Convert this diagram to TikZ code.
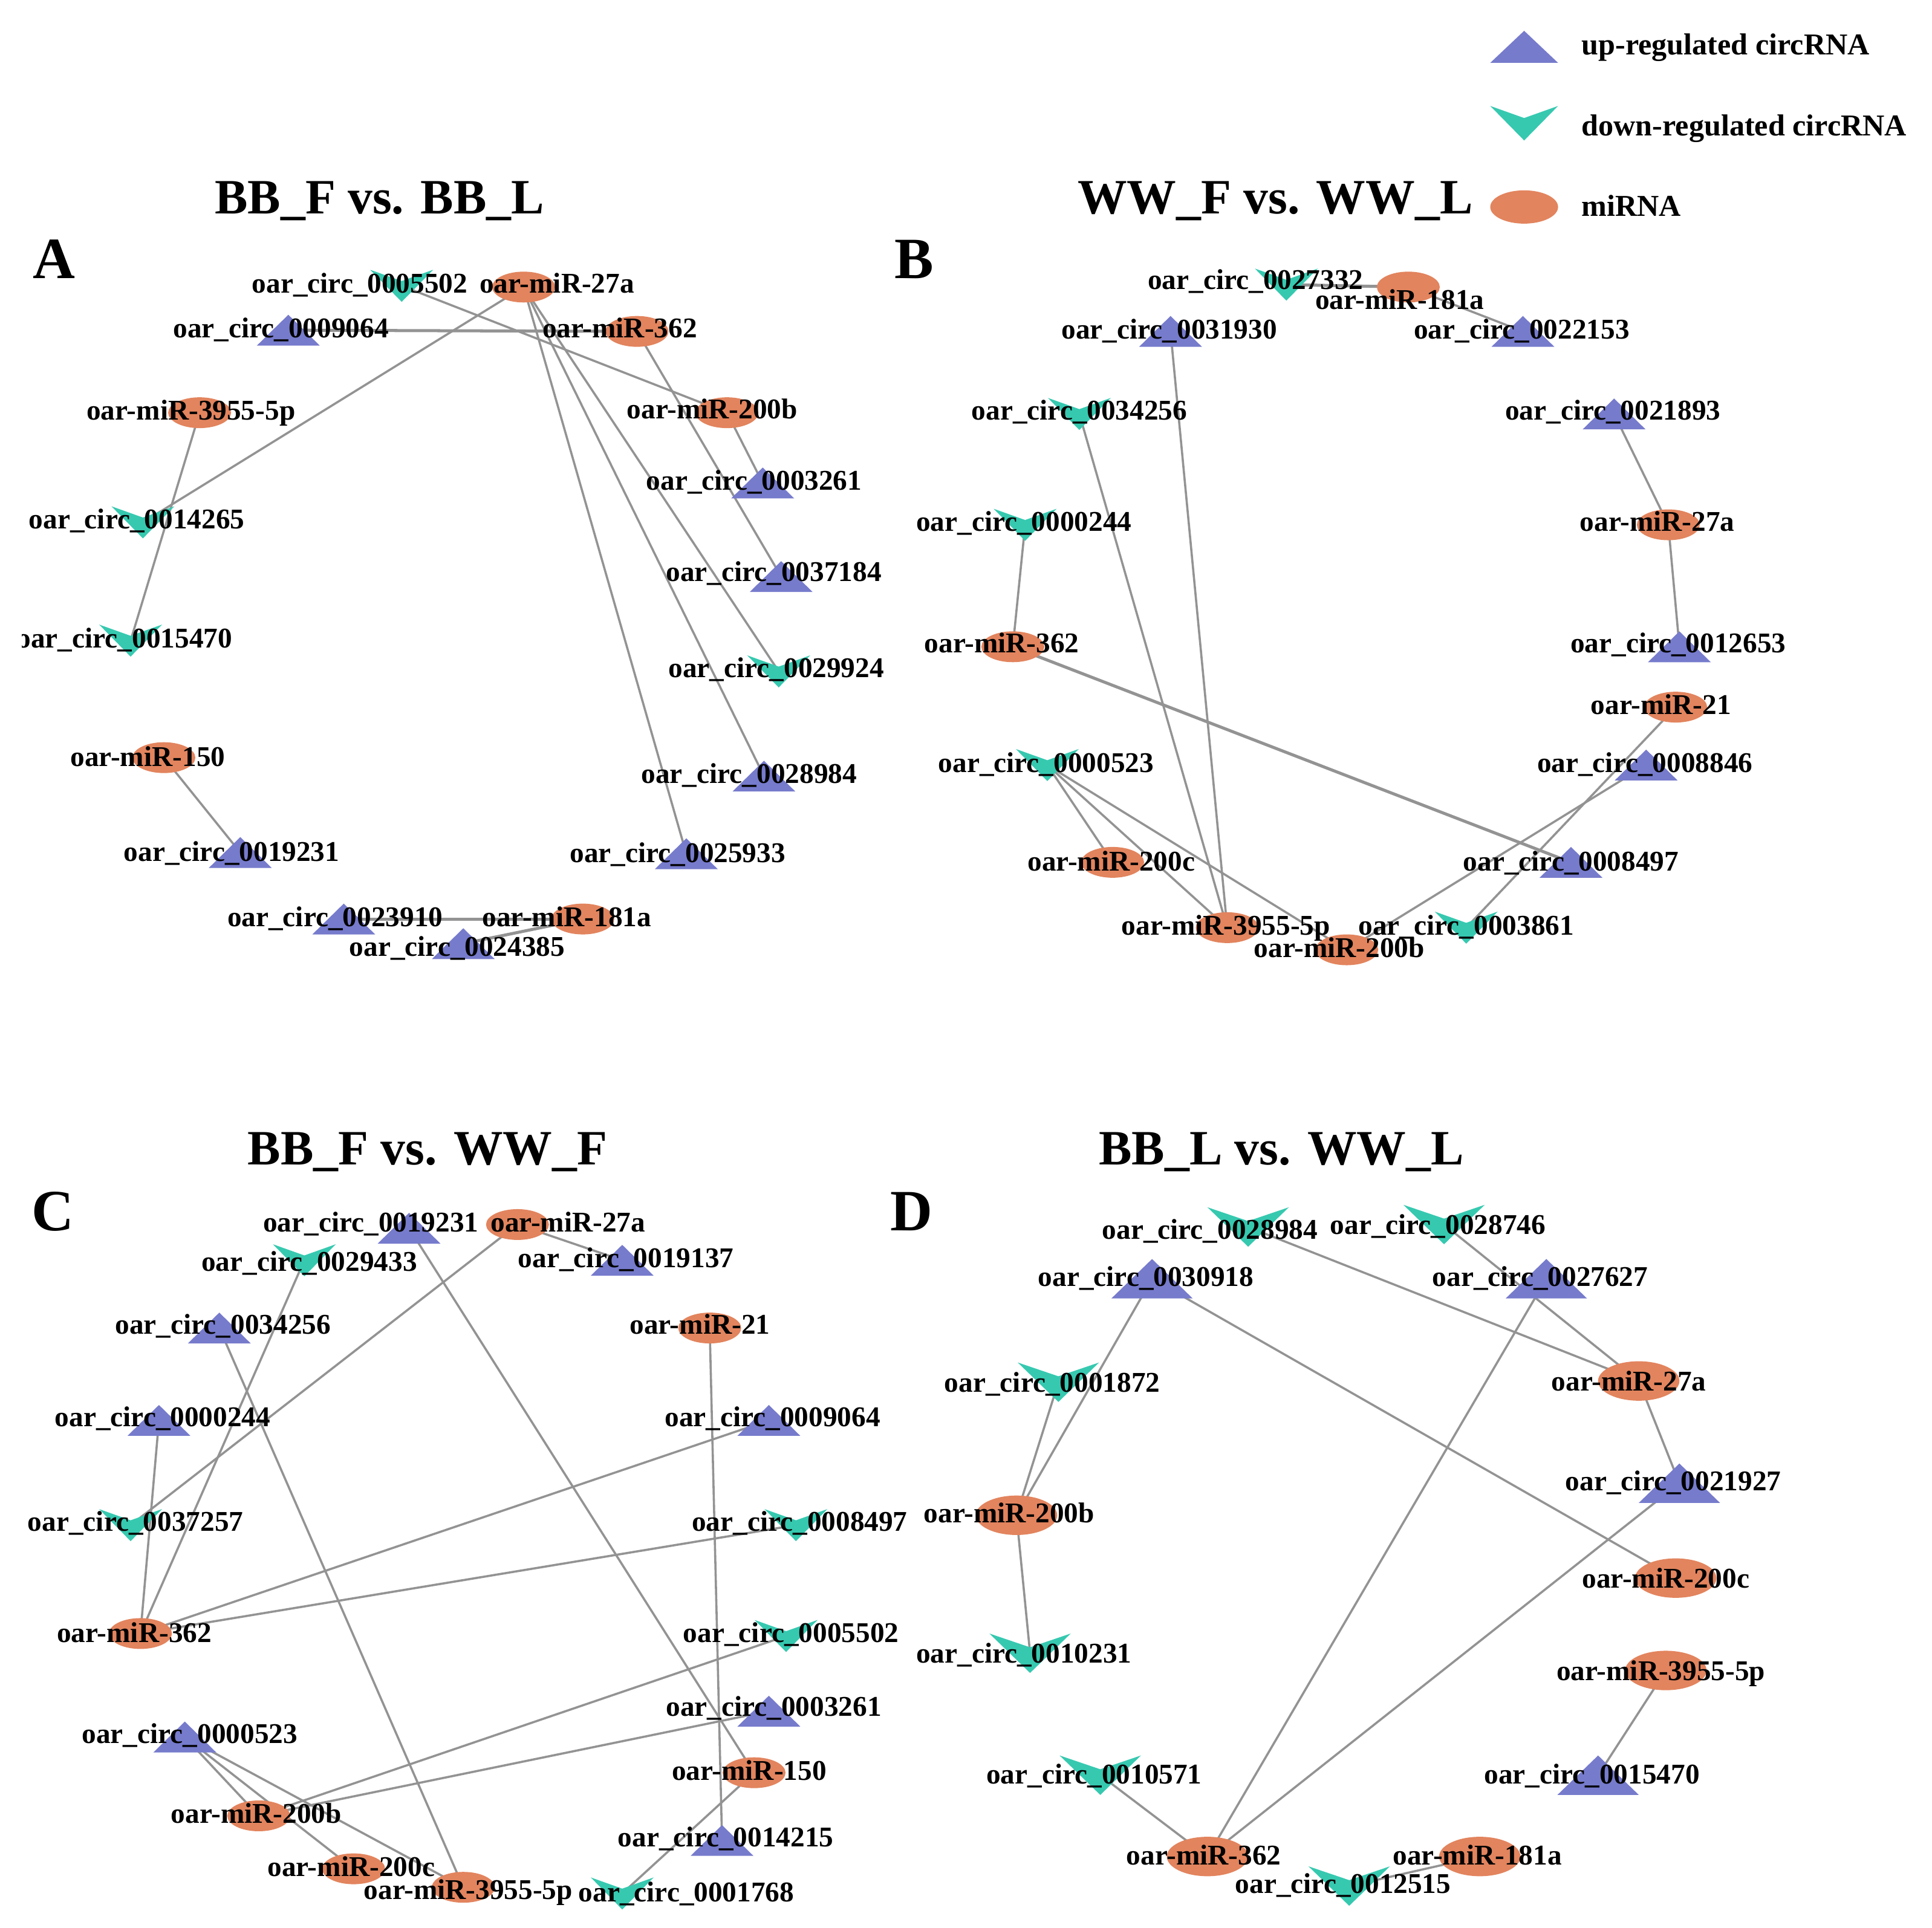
\documentclass[tikz,border=0pt]{standalone}
\usepackage{fontspec}
\setmainfont{Liberation Serif}
\usetikzlibrary{shapes.geometric, backgrounds, calc}

\definecolor{upblue}{RGB}{118,123,204}
\definecolor{downteal}{RGB}{54,201,176}
\definecolor{mirorange}{RGB}{226,132,94}

\begin{document}
\begin{tikzpicture}[
    x=0.01cm, y=-0.01cm,
    up reg/.style={inner sep=0pt, minimum width=5.1mm, minimum height=2.5mm,
        path picture={\fill[upblue] (path picture bounding box.south west) -- (path picture bounding box.north)
            -- (path picture bounding box.south east) -- cycle;}},
    down reg/.style={inner sep=0pt, minimum width=5.1mm, minimum height=2.6mm,
        path picture={\fill[downteal] (path picture bounding box.north west)
            -- ($(path picture bounding box.north)!0.35!(path picture bounding box.south)$)
            -- (path picture bounding box.north east) -- (path picture bounding box.south) -- cycle;}},
    mirna/.style={ellipse, fill=mirorange, inner sep=0pt, minimum width=5.1mm, minimum height=2.5mm},
    big/.style={minimum width=6.6mm, minimum height=3.2mm},
    lbl/.style={font=\bfseries\fontsize{6.6}{7}\selectfont, inner sep=0pt, text height=4.5pt, text depth=0pt},
    ttl/.style={font=\bfseries\fontsize{11.4}{13}\selectfont, inner sep=0pt, text height=7.6pt, text depth=0pt},
    tag/.style={font=\bfseries\fontsize{13.5}{15}\selectfont, inner sep=0pt, text height=9pt, text depth=0pt},
    lgd/.style={font=\bfseries\fontsize{7}{8}\selectfont, inner sep=0pt, anchor=west, text height=4.7pt, text depth=0pt},
    edge/.style={draw=gray!85, line width=0.5pt},
    heavy edge/.style={edge, line width=0.7pt}
]
    \useasboundingbox (0,0) rectangle (1568,1565);

    % Legend
    \node[up reg, minimum width=5.5mm, minimum height=2.6mm] (lg-up) at (1237,38) {};
    \node[down reg, minimum width=5.5mm, minimum height=2.8mm] (lg-down) at (1237,100) {};
    \node[mirna, minimum width=5.5mm, minimum height=2.7mm] (lg-mir) at (1237,168) {};
    \node[lgd] (lg-up-l) at (1283,36) {up-regulated circRNA};
    \node[lgd] (lg-down-l) at (1283,102) {down-regulated circRNA};
    \node[lgd] (lg-mir-l) at (1283,167) {miRNA};

    % Panel titles
    \node[ttl] (ttl-a) at (308,160) {BB\_F vs. BB\_L};
    \node[ttl] (ttl-b) at (1035,160) {WW\_F vs. WW\_L};
    \node[ttl] (ttl-c) at (347,932) {BB\_F vs. WW\_F};
    \node[ttl] (ttl-d) at (1040,932) {BB\_L vs. WW\_L};
    \node[tag] (tag-a) at (44,210) {A};
    \node[tag] (tag-b) at (742,210) {B};
    \node[tag] (tag-c) at (43,983) {C};
    \node[tag] (tag-d) at (740,983) {D};

    % ---------------- Panel A ----------------
    \node[down reg] (a-c0005502) at (326,232) {};
    \node[mirna] (a-m27a) at (425,233) {};
    \node[up reg] (a-c0009064) at (234,268) {};
    \node[mirna] (a-m362) at (517,269) {};
    \node[mirna] (a-m3955) at (162,335) {};
    \node[mirna] (a-m200b) at (590,335) {};
    \node[up reg] (a-c0003261) at (619,392) {};
    \node[down reg] (a-c0014265) at (116,424) {};
    \node[up reg] (a-c0037184) at (634,468) {};
    \node[down reg] (a-c0015470) at (106,520) {};
    \node[down reg] (a-c0029924) at (632,545) {};
    \node[mirna] (a-m150) at (133,615) {};
    \node[up reg] (a-c0028984) at (620,630) {};
    \node[up reg] (a-c0019231) at (195,692) {};
    \node[up reg] (a-c0025933) at (557,693) {};
    \node[up reg] (a-c0023910) at (279,746) {};
    \node[mirna] (a-m181a) at (473,746) {};
    \node[up reg] (a-c0024385) at (376,766) {};

    \node[lbl] (a-c0005502-l) at (292,230) {oar\_circ\_0005502};
    \node[lbl] (a-m27a-l) at (452,230) {oar-miR-27a};
    \node[lbl] (a-c0009064-l) at (228,266) {oar\_circ\_0009064};
    \node[lbl] (a-m362-l) at (503,266) {oar-miR-362};
    \node[lbl] (a-m3955-l) at (155,333) {oar-miR-3955-5p};
    \node[lbl] (a-m200b-l) at (578,332) {oar-miR-200b};
    \node[lbl] (a-c0003261-l) at (612,390) {oar\_circ\_0003261};
    \node[lbl] (a-c0014265-l) at (111,421) {oar\_circ\_0014265};
    \node[lbl] (a-c0037184-l) at (628,464) {oar\_circ\_0037184};
    \begin{scope}
        \clip (18,500) rectangle (300,540);
        \node[lbl] (a-c0015470-l) at (101,518) {oar\_circ\_0015470};
    \end{scope}
    \node[lbl] (a-c0029924-l) at (630,542) {oar\_circ\_0029924};
    \node[lbl] (a-m150-l) at (120,614) {oar-miR-150};
    \node[lbl] (a-c0028984-l) at (608,628) {oar\_circ\_0028984};
    \node[lbl] (a-c0019231-l) at (188,691) {oar\_circ\_0019231};
    \node[lbl] (a-c0025933-l) at (550,692) {oar\_circ\_0025933};
    \node[lbl] (a-c0023910-l) at (272,744) {oar\_circ\_0023910};
    \node[lbl] (a-m181a-l) at (460,744) {oar-miR-181a};
    \node[lbl] (a-c0024385-l) at (371,768) {oar\_circ\_0024385};

    \begin{scope}[on background layer]
        \draw[edge] (a-c0005502.center) -- (a-m200b.center);
        \draw[heavy edge] (a-c0009064.center) -- (a-m362.center);
        \draw[edge] (a-m27a.center) -- (a-c0014265.center);
        \draw[edge] (a-m27a.center) -- (a-c0029924.center);
        \draw[edge] (a-m27a.center) -- (a-c0028984.center);
        \draw[edge] (a-m27a.center) -- (a-c0025933.center);
        \draw[edge] (a-m362.center) -- (a-c0037184.center);
        \draw[edge] (a-m200b.center) -- (a-c0003261.center);
        \draw[edge] (a-m3955.center) -- (a-c0015470.center);
        \draw[edge] (a-m150.center) -- (a-c0019231.center);
        \draw[heavy edge] (a-m181a.center) -- (a-c0023910.center);
        \draw[heavy edge] (a-m181a.center) -- (a-c0024385.center);
    \end{scope}

    % ---------------- Panel B ----------------
    \node[down reg] (b-c0027332) at (1044,231) {};
    \node[mirna] (b-m181a) at (1143,233) {};
    \node[up reg] (b-c0031930) at (950,269) {};
    \node[up reg] (b-c0022153) at (1236,269) {};
    \node[down reg] (b-c0034256) at (876,336) {};
    \node[up reg] (b-c0021893) at (1310,336) {};
    \node[down reg] (b-c0000244) at (832,426) {};
    \node[mirna] (b-m27a) at (1354,426) {};
    \node[mirna] (b-m362) at (822,525) {};
    \node[up reg] (b-c0012653) at (1363,525) {};
    \node[mirna] (b-m21) at (1360,574) {};
    \node[down reg] (b-c0000523) at (850,621) {};
    \node[up reg] (b-c0008846) at (1336,621) {};
    \node[mirna] (b-m200c) at (903,700) {};
    \node[up reg] (b-c0008497) at (1275,700) {};
    \node[mirna] (b-m3955) at (996,753) {};
    \node[down reg] (b-c0003861) at (1190,753) {};
    \node[mirna] (b-m200b) at (1093,771) {};

    \node[lbl] (b-c0027332-l) at (1019,227) {oar\_circ\_0027332};
    \node[lbl] (b-m181a-l) at (1136,243) {oar-miR-181a};
    \node[lbl] (b-c0031930-l) at (949,267) {oar\_circ\_0031930};
    \node[lbl] (b-c0022153-l) at (1235,267) {oar\_circ\_0022153};
    \node[lbl] (b-c0034256-l) at (876,333) {oar\_circ\_0034256};
    \node[lbl] (b-c0021893-l) at (1309,333) {oar\_circ\_0021893};
    \node[lbl] (b-c0000244-l) at (831,423) {oar\_circ\_0000244};
    \node[lbl] (b-m27a-l) at (1345,423) {oar-miR-27a};
    \node[lbl] (b-m362-l) at (813,522) {oar-miR-362};
    \node[lbl] (b-c0012653-l) at (1362,522) {oar\_circ\_0012653};
    \node[lbl] (b-m21-l) at (1348,572) {oar-miR-21};
    \node[lbl] (b-c0000523-l) at (849,619) {oar\_circ\_0000523};
    \node[lbl] (b-c0008846-l) at (1335,619) {oar\_circ\_0008846};
    \node[lbl] (b-m200c-l) at (902,699) {oar-miR-200c};
    \node[lbl] (b-c0008497-l) at (1275,699) {oar\_circ\_0008497};
    \node[lbl] (b-m3955-l) at (995,751) {oar-miR-3955-5p};
    \node[lbl] (b-c0003861-l) at (1190,751) {oar\_circ\_0003861};
    \node[lbl] (b-m200b-l) at (1087,769) {oar-miR-200b};

    \begin{scope}[on background layer]
        \draw[heavy edge] (b-c0027332.center) -- (b-m181a.center);
        \draw[edge] (b-m181a.center) -- (b-c0022153.center);
        \draw[edge] (b-c0031930.center) -- (b-m3955.center);
        \draw[edge] (b-c0034256.center) -- (b-m3955.center);
        \draw[edge] (b-c0021893.center) -- (b-m27a.center);
        \draw[edge] (b-m27a.center) -- (b-c0012653.center);
        \draw[edge] (b-c0000244.center) -- (b-m362.center);
        \draw[heavy edge] (b-m362.center) -- (b-c0008497.center);
        \draw[edge] (b-c0000523.center) -- (b-m200c.center);
        \draw[edge] (b-c0000523.center) -- (b-m3955.center);
        \draw[edge] (b-c0000523.center) -- (b-m200b.center);
        \draw[edge] (b-m21.center) -- (b-c0003861.center);
        \draw[edge] (b-c0008846.center) -- (b-m200b.center);
    \end{scope}

    % ---------------- Panel C ----------------
    \node[up reg] (c-c0019231) at (332,997) {};
    \node[mirna] (c-m27a) at (420,994) {};
    \node[down reg] (c-c0029433) at (247,1023) {};
    \node[up reg] (c-c0019137) at (505,1023) {};
    \node[up reg] (c-c0034256) at (178,1078) {};
    \node[mirna] (c-m21) at (576,1078) {};
    \node[up reg] (c-c0000244) at (129,1153) {};
    \node[up reg] (c-c0009064) at (624,1153) {};
    \node[down reg] (c-c0037257) at (106,1238) {};
    \node[down reg] (c-c0008497) at (646,1238) {};
    \node[mirna] (c-m362) at (114,1326) {};
    \node[down reg] (c-c0005502) at (638,1328) {};
    \node[up reg] (c-c0000523) at (150,1410) {};
    \node[up reg] (c-c0003261) at (624,1389) {};
    \node[mirna] (c-m150) at (612,1439) {};
    \node[mirna] (c-m200b) at (210,1474) {};
    \node[up reg] (c-c0014215) at (586,1494) {};
    \node[mirna] (c-m200c) at (287,1517) {};
    \node[mirna] (c-m3955) at (376,1532) {};
    \node[down reg] (c-c0001768) at (505,1537) {};

    \node[lbl] (c-c0019231-l) at (301,992) {oar\_circ\_0019231};
    \node[lbl] (c-m27a-l) at (461,992) {oar-miR-27a};
    \node[lbl] (c-c0029433-l) at (251,1024) {oar\_circ\_0029433};
    \node[lbl] (c-c0019137-l) at (508,1021) {oar\_circ\_0019137};
    \node[lbl] (c-c0034256-l) at (181,1075) {oar\_circ\_0034256};
    \node[lbl] (c-m21-l) at (568,1075) {oar-miR-21};
    \node[lbl] (c-c0000244-l) at (132,1150) {oar\_circ\_0000244};
    \node[lbl] (c-c0009064-l) at (627,1150) {oar\_circ\_0009064};
    \node[lbl] (c-c0037257-l) at (110,1235) {oar\_circ\_0037257};
    \node[lbl] (c-c0008497-l) at (649,1235) {oar\_circ\_0008497};
    \node[lbl] (c-m362-l) at (109,1325) {oar-miR-362};
    \node[lbl] (c-c0005502-l) at (642,1325) {oar\_circ\_0005502};
    \node[lbl] (c-c0000523-l) at (154,1407) {oar\_circ\_0000523};
    \node[lbl] (c-c0003261-l) at (628,1385) {oar\_circ\_0003261};
    \node[lbl] (c-m150-l) at (608,1437) {oar-miR-150};
    \node[lbl] (c-m200b-l) at (208,1472) {oar-miR-200b};
    \node[lbl] (c-c0014215-l) at (589,1491) {oar\_circ\_0014215};
    \node[lbl] (c-m200c-l) at (285,1515) {oar-miR-200c};
    \node[lbl] (c-m3955-l) at (380,1534) {oar-miR-3955-5p};
    \node[lbl] (c-c0001768-l) at (557,1536) {oar\_circ\_0001768};

    \begin{scope}[on background layer]
        \draw[edge] (c-m27a.center) -- (c-c0019137.center);
        \draw[edge] (c-m27a.center) -- (c-c0037257.center);
        \draw[edge] (c-c0019231.center) -- (c-m150.center);
        \draw[edge] (c-c0029433.center) -- (c-m362.center);
        \draw[edge] (c-c0034256.center) -- (c-m3955.center);
        \draw[edge] (c-c0000244.center) -- (c-m362.center);
        \draw[edge] (c-m21.center) -- (c-c0014215.center);
        \draw[edge] (c-c0009064.center) -- (c-m362.center);
        \draw[edge] (c-c0008497.center) -- (c-m362.center);
        \draw[edge] (c-c0005502.center) -- (c-m200b.center);
        \draw[edge] (c-c0003261.center) -- (c-m200b.center);
        \draw[edge] (c-c0000523.center) -- (c-m200b.center);
        \draw[edge] (c-c0000523.center) -- (c-m200c.center);
        \draw[edge] (c-c0000523.center) -- (c-m3955.center);
        \draw[edge] (c-m150.center) -- (c-c0001768.center);
    \end{scope}

    % ---------------- Panel D ----------------
    \node[down reg, big] (d-c0028984) at (1013,996) {};
    \node[down reg, big] (d-c0028746) at (1172,994) {};
    \node[up reg, big] (d-c0030918) at (935,1038) {};
    \node[up reg, big] (d-c0027627) at (1255,1038) {};
    \node[down reg, big] (d-c0001872) at (859,1122) {};
    \node[mirna, big] (d-m27a) at (1330,1121) {};
    \node[up reg, big] (d-c0021927) at (1363,1204) {};
    \node[mirna, big] (d-m200b) at (825,1230) {};
    \node[mirna, big] (d-m200c) at (1360,1281) {};
    \node[down reg, big] (d-c0010231) at (836,1342) {};
    \node[mirna, big] (d-m3955) at (1352,1356) {};
    \node[down reg, big] (d-c0010571) at (893,1441) {};
    \node[up reg, big] (d-c0015470) at (1297,1441) {};
    \node[mirna, big] (d-m362) at (980,1507) {};
    \node[mirna, big] (d-m181a) at (1201,1507) {};
    \node[down reg, big] (d-c0012515) at (1095,1531) {};

    \node[lbl] (d-c0028984-l) at (982,998) {oar\_circ\_0028984};
    \node[lbl] (d-c0028746-l) at (1167,994) {oar\_circ\_0028746};
    \node[lbl] (d-c0030918-l) at (930,1036) {oar\_circ\_0030918};
    \node[lbl] (d-c0027627-l) at (1250,1036) {oar\_circ\_0027627};
    \node[lbl] (d-c0001872-l) at (854,1122) {oar\_circ\_0001872};
    \node[lbl] (d-m27a-l) at (1322,1121) {oar-miR-27a};
    \node[lbl] (d-c0021927-l) at (1358,1202) {oar\_circ\_0021927};
    \node[lbl] (d-m200b-l) at (819,1228) {oar-miR-200b};
    \node[lbl] (d-m200c-l) at (1352,1281) {oar-miR-200c};
    \node[lbl] (d-c0010231-l) at (831,1342) {oar\_circ\_0010231};
    \node[lbl] (d-m3955-l) at (1348,1356) {oar-miR-3955-5p};
    \node[lbl] (d-c0010571-l) at (888,1440) {oar\_circ\_0010571};
    \node[lbl] (d-c0015470-l) at (1292,1440) {oar\_circ\_0015470};
    \node[lbl] (d-m362-l) at (977,1506) {oar-miR-362};
    \node[lbl] (d-m181a-l) at (1199,1506) {oar-miR-181a};
    \node[lbl] (d-c0012515-l) at (1090,1529) {oar\_circ\_0012515};

    \begin{scope}[on background layer]
        \draw[edge] (d-c0028984.center) -- (d-m27a.center);
        \draw[edge] (d-c0028746.center) -- (d-m27a.center);
        \draw[edge] (d-c0030918.center) -- (d-m200c.center);
        \draw[edge] (d-c0030918.center) -- (d-m200b.center);
        \draw[edge] (d-c0001872.center) -- (d-m200b.center);
        \draw[edge] (d-m200b.center) -- (d-c0010231.center);
        \draw[edge] (d-c0027627.center) -- (d-m362.center);
        \draw[edge] (d-m27a.center) -- (d-c0021927.center);
        \draw[edge] (d-c0021927.center) -- (d-m362.center);
        \draw[edge] (d-m3955.center) -- (d-c0015470.center);
        \draw[edge] (d-c0010571.center) -- (d-m362.center);
        \draw[edge] (d-m181a.center) -- (d-c0012515.center);
    \end{scope}
\end{tikzpicture}
\end{document}
